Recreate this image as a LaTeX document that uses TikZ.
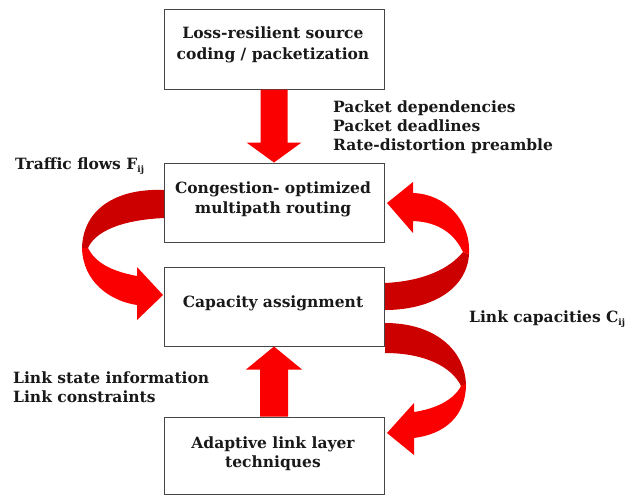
\documentclass[tikz,border=0pt]{standalone}
\usepackage{fontspec}
\setmainfont{DejaVu Serif}
\usetikzlibrary{calc}
\definecolor{redA}{RGB}{250,0,0}
\definecolor{redD}{RGB}{205,0,0}
\definecolor{boxline}{RGB}{70,70,70}
\begin{document}
\begin{tikzpicture}[x=1pt,y=-1pt,
  box/.style={draw=boxline,line width=1pt,minimum width=220pt,inner sep=0pt},
  txt/.style={font=\fontsize{15.5}{19}\selectfont\bfseries,inner sep=0pt,text=black!90},
]
\useasboundingbox (0,0) rectangle (628,496);
% boxes
\node[box,minimum height=80pt] (b1) at (274,49) {};
\node[box,minimum height=79pt] (b2) at (274,202.5) {};
\node[box,minimum height=79pt] (b3) at (274,306.5) {};
\node[box,minimum height=77pt] (b4) at (274,455.5) {};
% straight arrows
\fill[redA] ($(b1.south)+(-13.5,0)$) -- ($(b1.south)+(13.5,0)$) -- ($(b2.north)+(13.5,-20)$) -- ($(b2.north)+(27.5,-20)$) -- (b2.north) -- ($(b2.north)+(-27.5,-20)$) -- ($(b2.north)+(-13.5,-20)$) -- cycle;
\fill[redA] ($(b4.north)+(-14,0)$) -- ($(b4.north)+(14,0)$) -- ($(b3.south)+(14,23)$) -- ($(b3.south)+(28,23)$) -- (b3.south) -- ($(b3.south)+(-28,23)$) -- ($(b3.south)+(-14,23)$) -- cycle;
% left ribbon: b2 -> b3
\fill[redD] (164,190) .. controls (115,188) and (83,210) .. (82,248) -- (88,248) .. controls (95,232) and (120,220) .. (164,218) -- cycle;
\fill[redA] (82,248) .. controls (83,282) and (110,301) .. (137,305) -- (137,320) -- (163,295) -- (137,267) -- (137,276) .. controls (110,271) and (95,262) .. (88,248) -- cycle;
% right top ribbon: b3 -> b2
\fill[redD] (385,310) .. controls (430,310) and (467,290) .. (469,254) -- (463,252) .. controls (450,268) and (425,281) .. (385,283) -- cycle;
\fill[redA] (469,254) .. controls (471,220) and (445,194) .. (413,193) -- (413,182) -- (387,203) -- (413,233) -- (413,221) .. controls (440,222) and (455,235) .. (463,252) -- cycle;
% right bottom ribbon: b3 -> b4
\fill[redD] (385,323) .. controls (435,323) and (465,350) .. (466,385) -- (461,386) .. controls (452,367) and (425,353) .. (385,353) -- cycle;
\fill[redA] (466,384) .. controls (466,416) and (445,434) .. (414,438) -- (414,455) -- (387,433) -- (414,403) -- (414,412) .. controls (435,409) and (454,400) .. (461,386) -- cycle;
% box texts
\node[txt,anchor=base] (t1a) at (273,38) {Loss-resilient source};
\node[txt,anchor=base] (t1b) at (273,59) {coding / packetization};
\node[txt,anchor=base] (t2a) at (273,193) {Congestion- optimized};
\node[txt,anchor=base] (t2b) at (273,213) {multipath routing};
\node[txt,anchor=base] (t3a) at (273,307) {Capacity assignment};
\node[txt,anchor=base] (t4a) at (273,448) {Adaptive link layer};
\node[txt,anchor=base] (t4b) at (273,467) {techniques};
% labels
\node[txt,anchor=base west] (l1a) at (333,112) {Packet dependencies};
\node[txt,anchor=base west] (l1b) at (333,131) {Packet deadlines};
\node[txt,anchor=base west] (l1c) at (333,150) {Rate-distortion preamble};
\node[txt,anchor=base west] (l2) at (15,169) {Traffic flows F\raisebox{-3.5pt}{\fontsize{9}{9}\selectfont ij}};
\node[txt,anchor=base west] (l3) at (469,322) {Link capacities C\raisebox{-3.5pt}{\fontsize{9}{9}\selectfont ij}};
\node[txt,anchor=base west] (l4a) at (13,383) {Link state information};
\node[txt,anchor=base west] (l4b) at (13,402) {Link constraints};
\end{tikzpicture}
\end{document}
